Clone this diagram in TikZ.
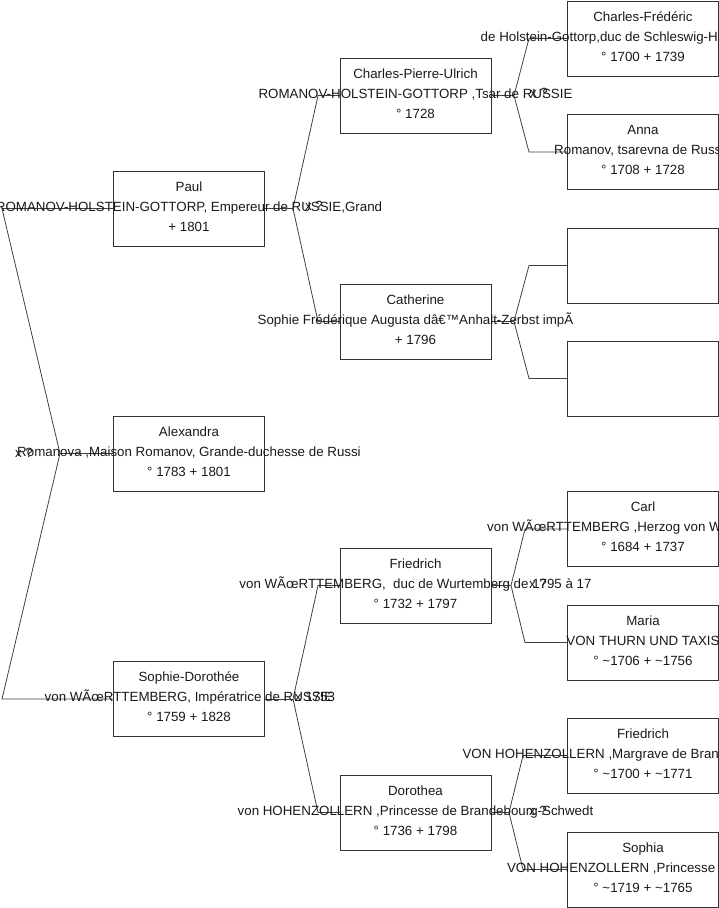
\documentclass[tikz,border=0pt]{standalone}
\usepackage{fontspec}
\setmainfont{Liberation Sans}
\begin{document}
\begin{tikzpicture}[x=1pt,y=-1pt,
  pbox/.style={draw=black!80, line width=0.8pt, minimum width=151pt, minimum height=75pt, inner sep=0pt},
  ptxt/.style={align=center, font=\fontsize{13.33}{20}\selectfont, inner sep=0pt, text=black!90, yshift=2pt},
  link/.style={draw=black!75, line width=0.8pt},
  marr/.style={font=\fontsize{13.33}{16}\selectfont, inner sep=0pt, text=black!90}]
\useasboundingbox (0,0) rectangle (719,908);
% ---------- boxes ----------
\node[pbox] (paul) at (189,208.5) {};
\node[pbox] (alex) at (189,453.5) {};
\node[pbox] (sdor) at (189,699) {};
\node[pbox] (cpu)  at (415.5,95.5) {};
\node[pbox] (cath) at (415.5,321.5) {};
\node[pbox] (frie) at (415.5,585.5) {};
\node[pbox] (doro) at (415.5,812.5) {};
\node[pbox] (cf)   at (643,38.5) {};
\node[pbox] (anna) at (643,152) {};
\node[pbox] (ea)   at (643,265.5) {};
\node[pbox] (eb)   at (643,378.5) {};
\node[pbox] (carl) at (643,529) {};
\node[pbox] (mari) at (643,642.5) {};
\node[pbox] (frd3) at (643,755.5) {};
\node[pbox] (soph) at (643,869.5) {};
% ---------- junctions ----------
\coordinate (jA) at (60,453.5);
\coordinate (jAu) at (2,208.5);
\coordinate (jAd) at (2,699);
\coordinate (jP) at (293,208.5);
\coordinate (jPu) at (318,95.5);
\coordinate (jPd) at (318,321.5);
\coordinate (jS) at (293,699);
\coordinate (jSu) at (318,585.5);
\coordinate (jSd) at (318,812.5);
\coordinate (jC) at (514,95.5);
\coordinate (jCu) at (529,38.5);
\coordinate (jCd) at (529,152);
\coordinate (jK) at (514,321.5);
\coordinate (jKu) at (529,265.5);
\coordinate (jKd) at (529,378.5);
\coordinate (jF) at (511,585.5);
\coordinate (jFu) at (525,529);
\coordinate (jFd) at (525,642.5);
\coordinate (jD) at (509,812.5);
\coordinate (jDu) at (523,755.5);
\coordinate (jDd) at (523,869.5);
% ---------- connectors ----------
\draw[link] (alex.west) -- (jA);
\draw[link] (jA) -- (jAu) -- (paul.west);
\draw[link] (jA) -- (jAd) -- (sdor.west);
\draw[link] (paul.east) -- (jP);
\draw[link] (jP) -- (jPu) -- (cpu.west);
\draw[link] (jP) -- (jPd) -- (cath.west);
\draw[link] (sdor.east) -- (jS);
\draw[link] (jS) -- (jSu) -- (frie.west);
\draw[link] (jS) -- (jSd) -- (doro.west);
\draw[link] (cpu.east) -- (jC);
\draw[link] (jC) -- (jCu) -- (cf.west);
\draw[link] (jC) -- (jCd) -- (anna.west);
\draw[link] (cath.east) -- (jK);
\draw[link] (jK) -- (jKu) -- (ea.west);
\draw[link] (jK) -- (jKd) -- (eb.west);
\draw[link] (frie.east) -- (jF);
\draw[link] (jF) -- (jFu) -- (carl.west);
\draw[link] (jF) -- (jFd) -- (mari.west);
\draw[link] (doro.east) -- (jD);
\draw[link] (jD) -- (jDu) -- (frd3.west);
\draw[link] (jD) -- (jDd) -- (soph.west);
% ---------- texts ----------
\node[ptxt] (tpaul) at (paul) {Paul\\ROMANOV-HOLSTEIN-GOTTORP, Empereur de RUSSIE,Grand\\+ 1801};
\node[ptxt] (talex) at (alex) {Alexandra\\Romanova ,Maison Romanov, Grande-duchesse de Russi\\° 1783 + 1801};
\node[ptxt] (tsdor) at (sdor) {Sophie-Dorothée\\von WÃ{\oe}RTTEMBERG, Impératrice de RUSSIE\\° 1759 + 1828};
\node[ptxt] (tcpu) at (cpu) {Charles-Pierre-Ulrich\\ROMANOV-HOLSTEIN-GOTTORP ,Tsar de RUSSIE\\° 1728};
\node[ptxt] (tcath) at (cath) {Catherine\\Sophie Frédérique Augusta dâ€™Anhalt-Zerbst impÃ\\+ 1796};
\node[ptxt] (tfrie) at (frie) {Friedrich\\von WÃ{\oe}RTTEMBERG,\ \ duc de Wurtemberg de 1795 à 17\\° 1732 + 1797};
\node[ptxt] (tdoro) at (doro) {Dorothea\\von HOHENZOLLERN ,Princesse de Brandebourg-Schwedt\\° 1736 + 1798};
\node[ptxt] (tcf) at (cf) {Charles-Frédéric\\de Holstein-Gottorp,duc de Schleswig-Holstein-Gottorp\\° 1700 + 1739};
\node[ptxt] (tanna) at (anna) {Anna\\Romanov, tsarevna de Russie\\° 1708 + 1728};
\node[ptxt] (tcarl) at (carl) {Carl\\von WÃ{\oe}RTTEMBERG ,Herzog von WÃ¼rttemberg\\° 1684 + 1737};
\node[ptxt] (tmari) at (mari) {Maria\\VON THURN UND TAXIS\\° \textasciitilde1706 + \textasciitilde1756};
\node[ptxt] (tfrd3) at (frd3) {Friedrich\\VON HOHENZOLLERN ,Margrave de Brandebourg-Schwedt\\° \textasciitilde1700 + \textasciitilde1771};
\node[ptxt] (tsoph) at (soph) {Sophia\\VON HOHENZOLLERN ,Princesse de Prusse\\° \textasciitilde1719 + \textasciitilde1765};
% ---------- marriage marks ----------
\node[marr] (mA) at (24,453) {x ?};
\node[marr] (mP) at (314,206) {x ?};
\node[marr] (mS) at (315,697) {x 1753};
\node[marr] (mC) at (539,93) {x ?};
\node[marr] (mF) at (538,584) {x ?};
\node[marr] (mD) at (538,811) {x ?};
\end{tikzpicture}
\end{document}
